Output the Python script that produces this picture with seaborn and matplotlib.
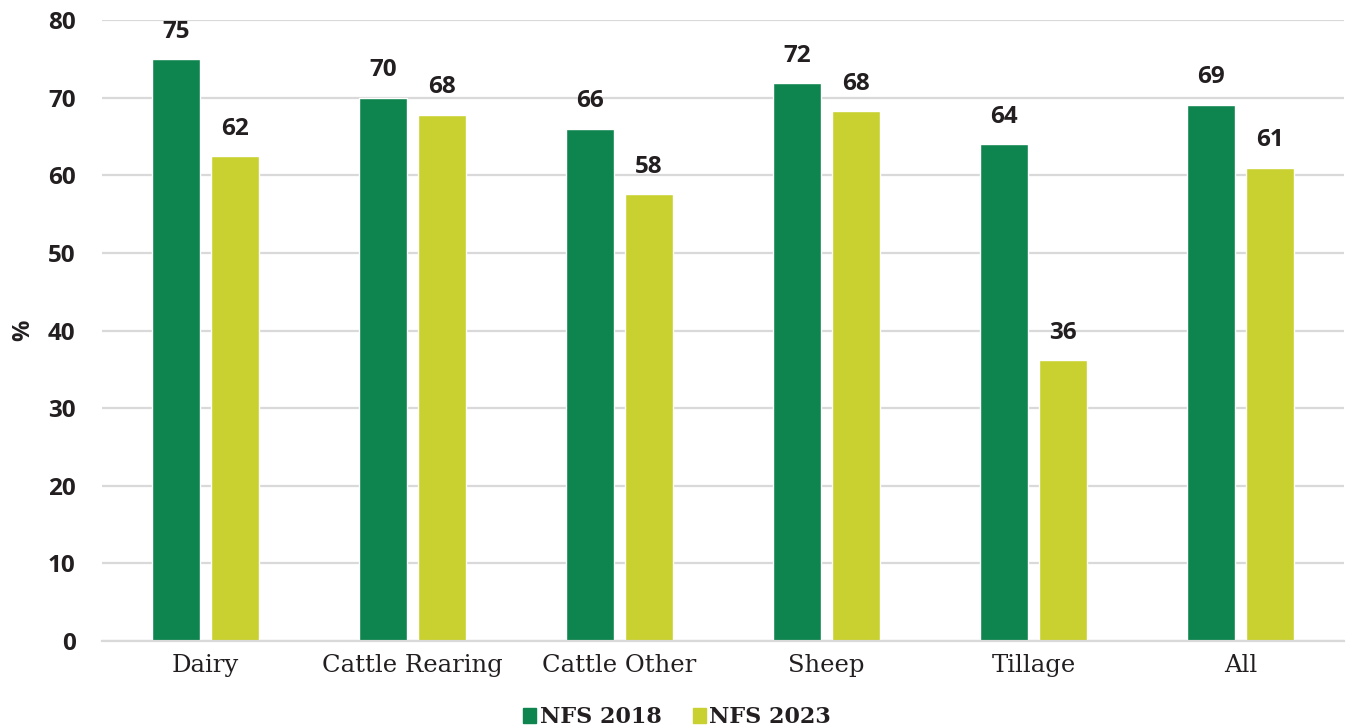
import matplotlib
matplotlib.use("Agg")
import matplotlib.pyplot as plt
import seaborn as sns
import pandas as pd

# Share of farms (%) by farm system, two survey years
categories = ["Dairy", "Cattle Rearing", "Cattle Other", "Sheep", "Tillage", "All"]
nfs_2018 = [75.0, 70.0, 66.0, 71.9, 64.0, 69.1]
nfs_2023 = [62.5, 67.8, 57.6, 68.3, 36.2, 61.0]
series_names = ["NFS 2018", "NFS 2023"]
y_ticks = [0, 10, 20, 30, 40, 50, 60, 70, 80]

colors = ["#0E844E", "#C8D12F"]
text_color = "#231F20"
grid_color = "#D9D9D9"

df = pd.DataFrame({
    "farm": categories * 2,
    "value": nfs_2018 + nfs_2023,
    "series": [series_names[0]] * len(categories) + [series_names[1]] * len(categories),
})

sns.set_theme(style="white")
plt.rcParams["font.family"] = ["Open Sans", "DejaVu Sans"]

fig = plt.figure(figsize=(13.54, 7.28), dpi=100)
ax = fig.add_axes([0.0753, 0.1195, 0.9173, 0.853])

sns.barplot(data=df, x="farm", y="value", hue="series", order=categories,
            hue_order=series_names, palette=colors, width=0.57, gap=0.2,
            saturation=1, errorbar=None, legend=False, ax=ax)

ax.set_ylim(0, 80)
ax.set_xlim(-0.5, len(categories) - 0.5)
ax.set_yticks(y_ticks)
ax.yaxis.grid(True, color=grid_color, linewidth=1.6)
ax.set_axisbelow(True)
for side in ["top", "right", "left"]:
    ax.spines[side].set_visible(False)
ax.spines["bottom"].set_color(grid_color)
ax.spines["bottom"].set_linewidth(1.6)
ax.tick_params(axis="both", length=0)
ax.tick_params(axis="y", pad=19)
ax.tick_params(axis="x", pad=9)

for lbl in ax.get_yticklabels():
    lbl.set_fontfamily(["Open Sans", "DejaVu Sans"])
    lbl.set_fontweight("bold")
    lbl.set_fontsize(17.5)
    lbl.set_color(text_color)
for lbl in ax.get_xticklabels():
    lbl.set_fontfamily(["DejaVu Serif"])
    lbl.set_fontsize(17.5)
    lbl.set_color(text_color)

ax.set_xlabel("")
ax.set_ylabel("%", fontsize=17, fontweight="bold", color=text_color)
ax.yaxis.set_label_coords(-0.054, 0.5)

for container in ax.containers:
    ax.bar_label(container, fmt="%.0f", padding=11, fontsize=17.5,
                 fontweight="bold", color=text_color)

handles = [plt.Rectangle((0, 0), 1, 1, color=c) for c in colors]
leg = fig.legend(handles, series_names, loc="lower center", bbox_to_anchor=(0.5, -0.028),
                 ncol=2, frameon=False, handlelength=0.6, handleheight=0.6,
                 handletextpad=0.15, columnspacing=1.4,
                 prop={"family": "DejaVu Serif", "weight": "bold", "size": 16})
for t in leg.get_texts():
    t.set_color(text_color)

fig.savefig("out.png", dpi=100)
